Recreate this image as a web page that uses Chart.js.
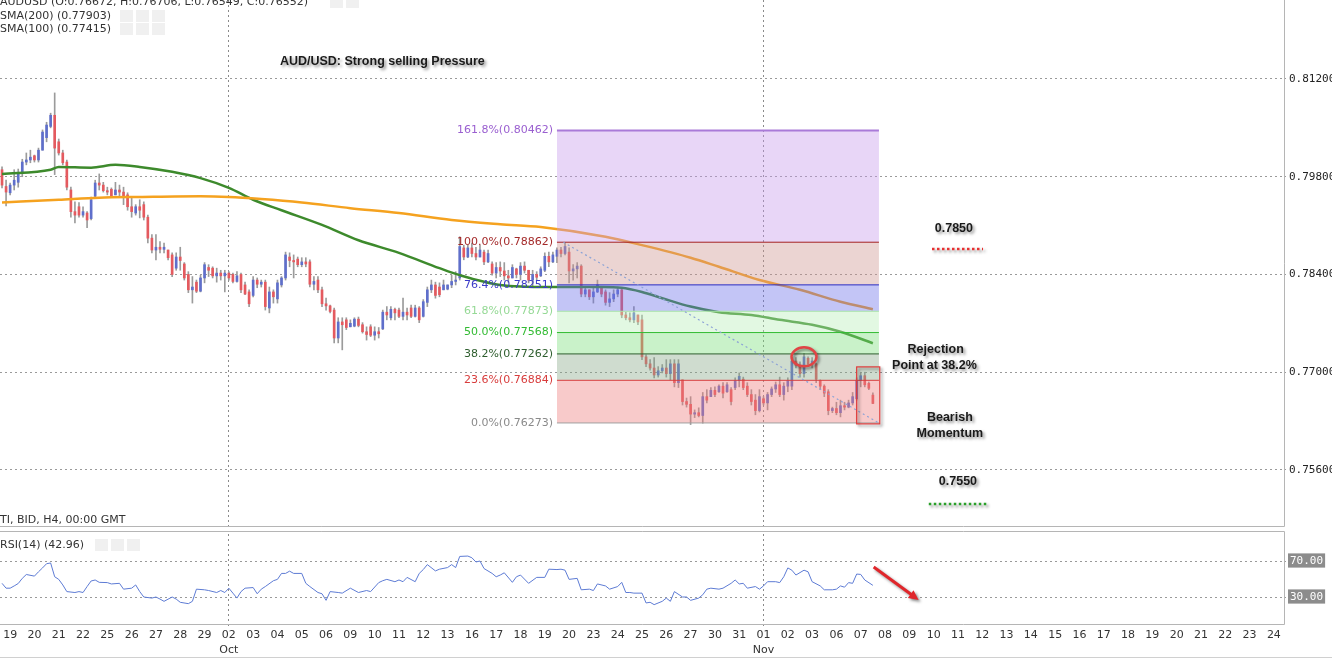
<!DOCTYPE html>
<html>
<head>
<meta charset="utf-8">
<script src="https://cdn.jsdelivr.net/npm/chart.js@4.4.1/dist/chart.umd.min.js"></script>
<style>
  html, body { margin: 0; padding: 0; background: #fff; }
  body { width: 1332px; height: 659px; position: relative; overflow: hidden; }
  canvas { position: absolute; left: 0; }
  #price { top: 0; }
  #rsi { top: 527px; }
</style>
</head>
<body>
<canvas id="price" width="1332" height="527"></canvas>
<canvas id="rsi" width="1332" height="132"></canvas>
<script>
// AUD/USD H4 candles (bar 0 = 18 Sep 16:00)
const opens = [
  .7990,.7966,.7957,.7968,.7972,.7986,.8001,.8004,.8010,.8004,
  .8018,.8036,.8052,.8068,.8030,.8014,.8001,.7961,.7930,.7937,
  .7925,.7928,.7920,.7952,.7971,.7968,.7960,.7962,.7954,.7961,
  .7958,.7954,.7937,.7928,.7937,.7940,.7922,.7892,.7875,.7879,
  .7876,.7875,.7868,.7849,.7865,.7855,.7840,.7818,.7829,.7816,
  .7835,.7850,.7849,.7838,.7842,.7838,.7842,.7840,.7830,.7840,
  .7825,.7815,.7810,.7832,.7826,.7829,.7792,.7815,.7805,.7825,
  .7835,.7865,.7860,.7862,.7854,.7858,.7858,.7826,.7832,.7818,
  .7798,.7795,.7789,.7749,.7772,.7775,.7765,.7766,.7776,.7768,
  .7758,.7765,.7753,.7758,.7762,.7786,.7778,.7790,.7789,.7780,
  .7786,.7792,.7780,.7792,.7780,.7800,.7818,.7825,.7822,.7818,
  .7819,.7825,.7830,.7835,.7878,.7865,.7878,.7870,.7865,.7872,
  .7858,.7855,.7842,.7850,.7845,.7838,.7835,.7848,.7840,.7852,
  .7846,.7832,.7840,.7838,.7846,.7866,.7858,.7866,.7875,.7870,
  .7872,.7845,.7848,.7852,.7812,.7818,.7808,.7815,.7821,.7815,
  .7800,.7805,.7812,.7818,.7782,.7778,.7775,.7782,.7775,.7722,
  .7712,.7706,.7696,.7702,.7706,.7698,.7712,.7685,.7689,.7658,
  .7654,.7640,.7642,.7638,.7665,.7665,.7674,.7672,.7680,.7672,
  .7675,.7678,.7688,.7690,.7680,.7668,.7660,.7645,.7662,.7656,
  .7668,.7676,.7682,.7668,.7680,.7680,.7716,.7710,.7698,.7720,
  .7712,.7712,.7688,.7680,.7672,.7645,.7648,.7642,.7652,.7650,
  .7656,.7662,.7688,.7695,.7684,.76672
];
const highs = [
  .7994,.7975,.7971,.7990,.7991,.8005,.8014,.8018,.8011,.8021,
  .8047,.8058,.8071,.8100,.8034,.8018,.8004,.7965,.7944,.7943,
  .7937,.7930,.7951,.7975,.7984,.7972,.7965,.7964,.7972,.7968,
  .7965,.7957,.7950,.7940,.7947,.7944,.7925,.7897,.7897,.7887,
  .7885,.7875,.7871,.7871,.7879,.7857,.7844,.7837,.7832,.7839,
  .7857,.7854,.7851,.7849,.7846,.7846,.7844,.7842,.7844,.7842,
  .7829,.7818,.7837,.7835,.7832,.7832,.7822,.7818,.7832,.7837,
  .7872,.7871,.7868,.7865,.7864,.7864,.7861,.7837,.7837,.7822,
  .7806,.7796,.7792,.7778,.7778,.7778,.7775,.7778,.7779,.7771,
  .7765,.7768,.7765,.7764,.7789,.7794,.7794,.7792,.7792,.7806,
  .7792,.7796,.7796,.7794,.7804,.7822,.7832,.7829,.7828,.7832,
  .7825,.7839,.7844,.7894,.7882,.7882,.7885,.7879,.7882,.7875,
  .7875,.7858,.7857,.7858,.7857,.7846,.7854,.7849,.7857,.7858,
  .7846,.7846,.7844,.7851,.7871,.7872,.7872,.7878,.7879,.7886,
  .7878,.7854,.7857,.7854,.7822,.7818,.7822,.7832,.7821,.7818,
  .7814,.7818,.7822,.7821,.7786,.7785,.7794,.7782,.7782,.7725,
  .7718,.7721,.7708,.7711,.7718,.7718,.7718,.7718,.7689,.7663,
  .7665,.7646,.7649,.7671,.7675,.7678,.7679,.7682,.7685,.7685,
  .7678,.7692,.7699,.7693,.7685,.7675,.7668,.7675,.7665,.7671,
  .7679,.7686,.7693,.7685,.7692,.7721,.7721,.7715,.7727,.7722,
  .7721,.7713,.7689,.7682,.7675,.7650,.7657,.7660,.7657,.7660,
  .7671,.7692,.7699,.7700,.7686,.76706
];
const lows = [
  .7964,.7938,.7954,.7961,.7965,.7980,.7997,.8000,.8001,.8001,
  .8018,.8030,.8050,.7983,.8011,.7997,.7961,.7922,.7914,.7922,
  .7922,.7907,.7918,.7950,.7961,.7958,.7954,.7950,.7954,.7950,
  .7940,.7932,.7922,.7925,.7921,.7918,.7885,.7871,.7861,.7871,
  .7871,.7861,.7837,.7846,.7846,.7832,.7814,.7799,.7814,.7815,
  .7828,.7837,.7835,.7829,.7832,.7815,.7832,.7828,.7829,.7814,
  .7811,.7794,.7808,.7821,.7822,.7789,.7785,.7799,.7799,.7822,
  .7832,.7851,.7835,.7851,.7851,.7851,.7822,.7818,.7814,.7794,
  .7789,.7785,.7742,.7742,.7732,.7761,.7765,.7765,.7765,.7756,
  .7746,.7751,.7746,.7749,.7761,.7775,.7775,.7775,.7778,.7775,
  .7775,.7778,.7779,.7771,.7779,.7794,.7814,.7806,.7808,.7818,
  .7818,.7821,.7825,.7832,.7861,.7864,.7865,.7861,.7865,.7854,
  .7857,.7839,.7835,.7837,.7832,.7829,.7835,.7835,.7832,.7842,
  .7828,.7822,.7832,.7837,.7844,.7851,.7857,.7857,.7865,.7868,
  .7828,.7832,.7835,.7808,.7808,.7804,.7799,.7814,.7808,.7796,
  .7794,.7801,.7808,.7778,.7775,.7772,.7771,.7768,.7718,.7708,
  .7703,.7692,.7693,.7699,.7693,.7689,.7679,.7678,.7653,.7650,
  .7625,.7635,.7636,.7627,.7656,.7665,.7665,.7671,.7663,.7671,
  .7653,.7675,.7679,.7675,.7665,.7653,.7639,.7643,.7653,.7646,
  .7665,.7671,.7665,.7660,.7672,.7675,.7706,.7693,.7693,.7708,
  .7706,.7685,.7675,.7665,.7639,.7642,.7639,.7636,.7646,.7649,
  .7653,.7660,.7679,.7679,.7675,.76549
];
const closes = [
  .7968,.7958,.7968,.7975,.7986,.8001,.8004,.8008,.8004,.8018,
  .8044,.8054,.8068,.8021,.8014,.8000,.7965,.7930,.7925,.7925,
  .7930,.7918,.7947,.7971,.7968,.7960,.7958,.7952,.7961,.7958,
  .7951,.7937,.7930,.7937,.7932,.7922,.7892,.7875,.7879,.7876,
  .7879,.7864,.7840,.7865,.7860,.7835,.7818,.7822,.7816,.7835,
  .7854,.7846,.7838,.7842,.7838,.7842,.7835,.7830,.7838,.7818,
  .7812,.7798,.7832,.7826,.7829,.7794,.7815,.7808,.7828,.7835,
  .7868,.7860,.7858,.7854,.7858,.7855,.7826,.7830,.7818,.7798,
  .7795,.7787,.7749,.7772,.7768,.7764,.7770,.7776,.7767,.7758,
  .7754,.7753,.7758,.7755,.7786,.7782,.7790,.7785,.7780,.7786,
  .7782,.7780,.7792,.7775,.7801,.7818,.7825,.7810,.7811,.7825,
  .7825,.7830,.7832,.7880,.7865,.7878,.7870,.7865,.7875,.7858,
  .7870,.7842,.7850,.7845,.7838,.7835,.7850,.7840,.7852,.7846,
  .7832,.7840,.7836,.7848,.7866,.7858,.7868,.7875,.7870,.7880,
  .7845,.7848,.7852,.7812,.7818,.7808,.7815,.7825,.7812,.7800,
  .7805,.7812,.7818,.7782,.7778,.7775,.7785,.7772,.7722,.7712,
  .7706,.7696,.7702,.7706,.7698,.7712,.7685,.7712,.7658,.7654,
  .7640,.7642,.7638,.7665,.7660,.7674,.7668,.7680,.7670,.7682,
  .7658,.7688,.7694,.7678,.7668,.7658,.7645,.7665,.7656,.7668,
  .7676,.7682,.7668,.7680,.7688,.7716,.7710,.7698,.7722,.7712,
  .7716,.7690,.7680,.7670,.7645,.7648,.7642,.7652,.7650,.7656,
  .7665,.7688,.7695,.7682,.7677,.76552
];

// moving averages, read at a few bars along each curve
const sma200Bars = [0, 14, 24, 34, 49, 56, 64, 74, 86, 98, 111, 123, 133, 149, 158, 170, 177, 187, 197, 207, 215];
const sma200Values = [.7943, .7947, .7950, .7951, .7952, .7951, .7948, .7943, .7935, .7928, .7918, .7912, .7908, .7894, .7882, .7864, .7851, .7832, .7818, .7801, .77903];
const sma100Bars = [0, 12, 14, 22, 28, 34, 42, 49, 56, 62, 69, 79, 88, 98, 108, 113, 123, 135, 148, 153, 158, 163, 170, 177, 185, 192, 200, 207, 215];
const sma100Values = [.7984, .7990, .7994, .7993, .7997, .7994, .7987, .7978, .7964, .7947, .7932, .7911, .7889, .7871, .7849, .7839, .7825, .7822, .7822, .7821, .7815, .7806, .7794, .7786, .7782, .7775, .7768, .7758, .77415];

// RSI(14)
const rsiBars = [0,1,2,3,4,5,6,8,9,10,11,12,13,14,15,16,18,19,20,21,22,23,24,26,27,29,30,32,33,34,35,37,38,39,40,42,43,44,46,47,48,50,51,53,54,55,56,57,58,59,60,62,63,64,65,67,68,69,70,71,72,74,75,76,78,79,80,81,83,84,86,88,90,91,93,94,95,97,98,99,100,102,103,104,105,107,108,110,111,112,113,115,116,117,118,119,121,122,123,124,126,127,128,130,132,134,135,137,138,139,140,142,143,145,146,147,149,150,152,153,154,155,156,158,159,160,161,163,164,165,166,168,169,170,172,173,174,175,177,178,180,181,182,183,184,186,187,188,189,191,192,193,194,195,196,198,199,200,202,203,205,206,207,208,209,210,211,212,213,215];
const rsiValues = [45.2,39.8,39.8,42.3,45,50.7,55,53.2,58,62.3,67,67.8,52.5,49.6,43.4,36,35,36,35,41.6,47.8,48.9,46.3,46,44.5,45.2,38.7,39.8,43.4,36,30,28.8,30,27.7,25.2,30,27.7,24.1,22.6,25.2,38.7,38,37.2,35,37.2,35,39.8,34.3,28.8,36,39.8,40.5,33.6,38.7,41.6,48.1,49.6,56.2,56.2,58.7,56.2,56.2,45.2,41.6,35,33.6,26.3,36,35,34.3,39.8,35,37.2,36,46,48.1,49.6,47,48.9,47,51.8,47,56.2,60.5,66,59,60.9,62.7,66,62.7,75.1,75.5,73.6,68.9,70,61.6,56.2,52.5,54.4,56.9,46.3,52.5,54.4,45.2,51.8,51.8,60.9,60.5,60.9,59.8,49.6,50.7,38,38.7,37.2,44.5,42.3,38.7,41.6,46.3,35,35,34.3,34.3,23.4,24.1,21.5,25.2,28.8,25.2,36,30,30,26.3,28.8,32.5,38.7,39.8,38.7,39.8,45.2,48.9,44.5,45.2,39.8,41.6,38.7,42.3,47,47,46,52.5,62.3,59.8,54.4,59.8,58,47,42.3,38,38,38.7,42.3,40.9,46,45.2,55.5,55.1,48.9,42.96];

// Fibonacci retracement drawn on the chart
const fibRatios = [0, 23.6, 38.2, 50, 61.8, 76.4, 100, 161.8];
const fibPrices = [0.76273, 0.76884, 0.77262, 0.77568, 0.77873, 0.78251, 0.78862, 0.80462];
const fibBars = [137, 216.5];
const trendBars = [138.6, 216.5];
const trendPrices = [0.78862, 0.76273];

const priceTicks = [0.812, 0.798, 0.784, 0.770, 0.756];
const rsiTicks = [70, 30];
const dayLabels = ['19','20','21','22','25','26','27','28','29','02','03','04','05','06','09','10','11','12','13','16','17','18','19','20','23','24','25','26','27','30','31','01','02','03','06','07','08','09','10','11','12','13','14','15','16','17','18','19','20','21','22','23','24'];
const monthAt = [9, 31];
const monthNames = ['Oct', 'Nov'];
const totalBars = 317;

// annotations
const noteBars = [93.9, 235, 230.5, 230.2, 234, 234, 236];
const notePrices = [0.81443, 0.79052, 0.77319, 0.77090, 0.76345, 0.76116, 0.75429];
const noteTexts = ['AUD/USD: Strong selling Pressure', '0.7850', 'Rejection', 'Point at 38.2%', 'Bearish', 'Momentum', '0.7550'];
const redDashBars = [229.6, 242.2], redDashPrice = 0.78765;
const greenDashBars = [228.8, 243.1], greenDashPrice = 0.75114;
const ringBar = 198, ringPrice = 0.7722;
const boxBars = [211, 216.7], boxPrices = [0.77076, 0.76260];
const arrowBars = [215.2, 226.3], arrowRsi = [63.3, 26.7];

const dayStart = k => 2 + 6 * k;
const monthStarts = monthAt.map(dayStart);

Chart.defaults.font.family = "'DejaVu Sans', sans-serif";
Chart.defaults.font.size = 11;
Chart.defaults.color = '#333';

const fibLine = ['#a0a0a0', '#d83c3c', '#2e5e2e', '#33bb33', '#a8e4a8', '#2b2bc0', '#a42020', '#a97ad8'];
const fibText = ['#8a8a8a', '#d83c3c', '#2e5e2e', '#33bb33', '#95d995', '#3b3bc8', '#a42a2a', '#9a5fd0'];
const fibFill = [null, 'rgba(237,122,122,0.4)', 'rgba(135,167,135,0.4)', 'rgba(120,222,120,0.4)',
  'rgba(183,237,183,0.4)', 'rgba(105,110,232,0.4)', 'rgba(205,148,143,0.4)', 'rgba(197,153,235,0.4)'];

const fibSets = fibPrices.map((p, i) => ({
  type: 'line',
  data: [{ x: fibBars[0], y: p }, { x: fibBars[1], y: p }],
  borderColor: fibLine[i],
  borderWidth: i === 7 ? 2 : 1,
  pointRadius: 0,
  fill: i === 0 ? false : '-1',
  backgroundColor: fibFill[i] || 'transparent',
  order: 2
}));

// keep the axes from pushing the plot area in
function noPad(s) {
  s.paddingTop = 0;
  s.paddingBottom = 0;
  s.paddingLeft = 0;
  s.paddingRight = 0;
}

function icons(ctx, x0, yMid, n) {
  ctx.fillStyle = '#f0f0f0';
  for (let i = 0; i < n; i++) ctx.fillRect(x0 + i * 16, yMid - 6, 13, 12);
}

function shadowOn(ctx) {
  ctx.shadowColor = 'rgba(0,0,0,0.45)';
  ctx.shadowBlur = 3;
  ctx.shadowOffsetX = 2;
  ctx.shadowOffsetY = 2;
}

const priceOverlay = {
  id: 'priceOverlay',
  afterDraw(chart) {
    const { ctx, chartArea: a, scales: { x, y } } = chart;
    ctx.save();

    // fib labels
    ctx.font = "11px 'DejaVu Sans'";
    ctx.textAlign = 'right';
    ctx.textBaseline = 'middle';
    const lx = x.getPixelForValue(fibBars[0]) - 4;
    fibPrices.forEach((p, i) => {
      ctx.fillStyle = fibText[i];
      ctx.fillText(fibRatios[i].toFixed(1) + '%(' + p.toFixed(5) + ')', lx, y.getPixelForValue(p));
    });

    // panel border
    ctx.strokeStyle = '#b5b5b5';
    ctx.lineWidth = 1;
    ctx.beginPath();
    ctx.moveTo(a.right + 0.5, 0);
    ctx.lineTo(a.right + 0.5, a.bottom - 0.5);
    ctx.lineTo(0, a.bottom - 0.5);
    ctx.stroke();

    // legend lines top-left
    icons(ctx, 330, 2, 2);
    icons(ctx, 120, 16, 3);
    icons(ctx, 120, 29, 3);
    ctx.textAlign = 'left';
    ctx.fillStyle = '#333';
    ctx.fillText('AUDUSD (O:0.76672, H:0.76706, L:0.76549, C:0.76552)', 0, 2);
    ctx.fillText('SMA(200) (' + sma200Values[sma200Values.length - 1].toFixed(5) + ')', 0, 16);
    ctx.fillText('SMA(100) (' + sma100Values[sma100Values.length - 1].toFixed(5) + ')', 0, 29);
    ctx.fillText('TI, BID, H4, 00:00 GMT', 0, 520);

    // red box around last bars
    shadowOn(ctx);
    const bx0 = x.getPixelForValue(boxBars[0]), bx1 = x.getPixelForValue(boxBars[1]);
    const by0 = y.getPixelForValue(boxPrices[0]), by1 = y.getPixelForValue(boxPrices[1]);
    ctx.strokeStyle = '#e03a3a';
    ctx.lineWidth = 1.2;
    ctx.strokeRect(bx0, by0, bx1 - bx0, by1 - by0);

    // rejection ring
    ctx.strokeStyle = '#e04545';
    ctx.lineWidth = 2.5;
    ctx.beginPath();
    ctx.ellipse(x.getPixelForValue(ringBar), y.getPixelForValue(ringPrice), 12.5, 9.5, 0, 0, Math.PI * 2);
    ctx.stroke();

    // dotted level marks
    ctx.lineWidth = 2.5;
    ctx.setLineDash([2.5, 2.5]);
    ctx.strokeStyle = '#e53030';
    ctx.beginPath();
    ctx.moveTo(x.getPixelForValue(redDashBars[0]), y.getPixelForValue(redDashPrice));
    ctx.lineTo(x.getPixelForValue(redDashBars[1]), y.getPixelForValue(redDashPrice));
    ctx.stroke();
    ctx.strokeStyle = '#2aa02a';
    ctx.beginPath();
    ctx.moveTo(x.getPixelForValue(greenDashBars[0]), y.getPixelForValue(greenDashPrice));
    ctx.lineTo(x.getPixelForValue(greenDashBars[1]), y.getPixelForValue(greenDashPrice));
    ctx.stroke();
    ctx.setLineDash([]);

    // text notes
    ctx.font = "bold 12.5px 'Liberation Sans', Arial, sans-serif";
    ctx.fillStyle = '#1a1a1a';
    ctx.textAlign = 'center';
    noteTexts.forEach((t, i) => {
      ctx.fillText(t, x.getPixelForValue(noteBars[i]), y.getPixelForValue(notePrices[i]));
    });
    ctx.restore();
  }
};

new Chart(document.getElementById('price'), {
  type: 'bar',
  data: {
    datasets: [
      {
        type: 'bar',
        data: highs.map((h, i) => ({ x: i, y: [lows[i], h] })),
        backgroundColor: '#9b9b9b',
        barThickness: 1,
        grouped: false,
        order: 5
      },
      {
        type: 'bar',
        data: opens.map((o, i) => ({ x: i, y: [o, closes[i]] })),
        backgroundColor: opens.map((o, i) => closes[i] >= o ? '#5f6fcb' : '#e45a5f'),
        barThickness: 2,
        minBarLength: 1,
        grouped: false,
        order: 4
      },
      {
        type: 'line',
        data: sma200Bars.map((b, i) => ({ x: b, y: sma200Values[i] })),
        borderColor: '#f5a21f',
        borderWidth: 2.5,
        pointRadius: 0,
        cubicInterpolationMode: 'monotone',
        order: 3
      },
      {
        type: 'line',
        data: sma100Bars.map((b, i) => ({ x: b, y: sma100Values[i] })),
        borderColor: '#3d8a2c',
        borderWidth: 2.5,
        pointRadius: 0,
        cubicInterpolationMode: 'monotone',
        order: 3
      },
      ...fibSets,
      {
        type: 'line',
        data: trendBars.map((b, i) => ({ x: b, y: trendPrices[i] })),
        borderColor: '#8da3d6',
        borderWidth: 1.2,
        borderDash: [2, 3],
        pointRadius: 0,
        order: 1
      }
    ]
  },
  options: {
    responsive: false,
    animation: false,
    devicePixelRatio: 1,
    layout: { padding: 0, autoPadding: false },
    plugins: { legend: { display: false }, tooltip: { enabled: false } },
    scales: {
      x: {
        type: 'linear',
        min: -0.5,
        max: totalBars - 0.5,
        offset: false,
        afterBuildTicks: s => { s.ticks = monthStarts.map(v => ({ value: v })); },
        afterFit: s => { s.height = 0; noPad(s); },
        ticks: { display: false },
        grid: { offset: false, color: '#8a8a8a', drawTicks: false },
        border: { display: false, dash: [2, 3] }
      },
      y: {
        type: 'linear',
        position: 'right',
        min: 0.74783,
        max: 0.82331,
        beginAtZero: false,
        afterBuildTicks: s => { s.ticks = priceTicks.map(v => ({ value: v })); },
        afterFit: s => { s.width = 48; noPad(s); },
        ticks: {
          callback: v => v.toFixed(5),
          font: { family: "'DejaVu Sans Mono', monospace", size: 11 },
          color: '#222',
          padding: 2
        },
        grid: { color: '#9a9a9a', tickLength: 3, tickBorderDash: [2, 3] },
        border: { display: false, dash: [2, 3] }
      }
    }
  },
  plugins: [priceOverlay]
});

const rsiOverlay = {
  id: 'rsiOverlay',
  afterDraw(chart) {
    const { ctx, chartArea: a, scales: { x, y } } = chart;
    ctx.save();
    ctx.strokeStyle = '#b5b5b5';
    ctx.lineWidth = 1;
    ctx.beginPath();
    ctx.moveTo(0, 4.5);
    ctx.lineTo(a.right + 0.5, 4.5);
    ctx.lineTo(a.right + 0.5, a.bottom + 0.5);
    ctx.lineTo(0, a.bottom + 0.5);
    ctx.stroke();
    ctx.strokeStyle = '#d0d0d0';
    ctx.beginPath();
    ctx.moveTo(0, 130.5);
    ctx.lineTo(1332, 130.5);
    ctx.stroke();

    icons(ctx, 95, a.top + 11, 3);
    ctx.font = "11px 'DejaVu Sans'";
    ctx.fillStyle = '#333';
    ctx.textBaseline = 'middle';
    ctx.fillText('RSI(14) (' + rsiValues[rsiValues.length - 1].toFixed(2) + ')', 0, a.top + 11);

    // red arrow
    const x0 = x.getPixelForValue(arrowBars[0]), y0 = y.getPixelForValue(arrowRsi[0]);
    const x1 = x.getPixelForValue(arrowBars[1]), y1 = y.getPixelForValue(arrowRsi[1]);
    const ang = Math.atan2(y1 - y0, x1 - x0);
    shadowOn(ctx);
    ctx.strokeStyle = '#e0262b';
    ctx.fillStyle = '#e0262b';
    ctx.lineWidth = 3;
    ctx.beginPath();
    ctx.moveTo(x0, y0);
    ctx.lineTo(x1 - 7 * Math.cos(ang), y1 - 7 * Math.sin(ang));
    ctx.stroke();
    ctx.beginPath();
    ctx.moveTo(x1, y1);
    ctx.lineTo(x1 - 11 * Math.cos(ang - 0.45), y1 - 11 * Math.sin(ang - 0.45));
    ctx.lineTo(x1 - 11 * Math.cos(ang + 0.45), y1 - 11 * Math.sin(ang + 0.45));
    ctx.closePath();
    ctx.fill();
    ctx.restore();
  }
};

const monthLine = c => (c.tick && monthStarts.includes(c.tick.value)) ? '#8a8a8a' : 'rgba(0,0,0,0)';

new Chart(document.getElementById('rsi'), {
  type: 'line',
  data: {
    datasets: [{
      data: rsiBars.map((b, i) => ({ x: b, y: rsiValues[i] })),
      borderColor: '#5d7bd4',
      borderWidth: 1,
      pointRadius: 0,
      tension: 0
    }]
  },
  options: {
    responsive: false,
    animation: false,
    devicePixelRatio: 1,
    layout: { padding: { top: 7, left: 0, right: 0, bottom: 0 }, autoPadding: false },
    plugins: { legend: { display: false }, tooltip: { enabled: false } },
    scales: {
      x: {
        type: 'linear',
        min: -0.5,
        max: totalBars - 0.5,
        offset: false,
        afterBuildTicks: s => { s.ticks = dayLabels.map((d, k) => ({ value: dayStart(k) })); },
        afterFit: s => { s.height = 35; noPad(s); },
        ticks: {
          autoSkip: false,
          maxRotation: 0,
          padding: 1,
          color: '#333',
          font: { size: 11, lineHeight: 1.35 },
          callback: v => {
            const k = Math.round((v - 2) / 6);
            const m = monthAt.indexOf(k);
            return m < 0 ? dayLabels[k] : [dayLabels[k], monthNames[m]];
          }
        },
        grid: { offset: false, color: monthLine, tickColor: monthLine, tickLength: 3, tickBorderDash: [2, 3] },
        border: { display: false, dash: [2, 3] }
      },
      y: {
        type: 'linear',
        position: 'right',
        min: 0,
        max: 100,
        afterBuildTicks: s => { s.ticks = rsiTicks.map(v => ({ value: v })); },
        afterFit: s => { s.width = 48; noPad(s); },
        ticks: {
          callback: v => v.toFixed(2),
          font: { family: "'DejaVu Sans Mono', monospace", size: 11 },
          color: '#fff',
          padding: 4,
          showLabelBackdrop: true,
          backdropColor: '#8c8c8c',
          backdropPadding: { left: 2, right: 2, top: 1, bottom: 0 }
        },
        grid: { color: '#9a9a9a', tickLength: 2, tickBorderDash: [2, 3] },
        border: { display: false, dash: [2, 3] }
      }
    }
  },
  plugins: [rsiOverlay]
});
</script>
</body>
</html>
